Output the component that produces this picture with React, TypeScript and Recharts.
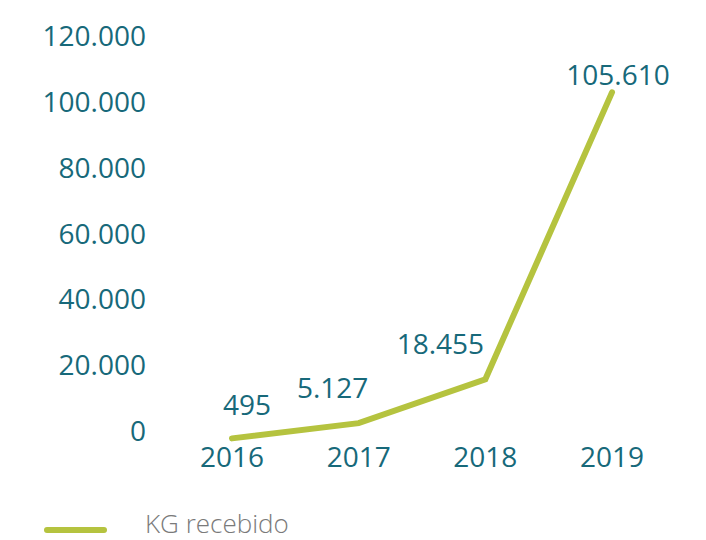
import React from "react";
import { LineChart, Line, XAxis, YAxis, Legend, LabelList } from "recharts";

const years = ["2016", "2017", "2018", "2019"];
const kgReceived = [495, 5127, 18455, 105610];
const valueLabels = ["495", "5.127", "18.455", "105.610"];
const yTicks = [0, 20000, 40000, 60000, 80000, 100000, 120000];
const seriesName = "KG recebido";

const data = years.map((y, i) => ({ year: y, kg: kgReceived[i], label: valueLabels[i] }));

const TEAL = "#17697a";
const LIME = "#b5c33f";
const FONT = "'Open Sans', 'Noto Sans', sans-serif";

const labelOffsets = [
  { dx: 15, dy: -33 },
  { dx: -26, dy: -35 },
  { dx: -45, dy: -35 },
  { dx: 6, dy: -17 },
];

const fmt = (v: number) => v.toLocaleString("de-DE");

const YTick = (props: any) => {
  const { y, payload } = props;
  return (
    <text x={146} y={y - 9} dy="0.36em" textAnchor="end" fill={TEAL} fontSize={28} fontFamily={FONT}>
      {fmt(payload.value)}
    </text>
  );
};

const XTick = (props: any) => {
  const { x, y, payload } = props;
  return (
    <text x={x} y={y + 19} textAnchor="middle" fill={TEAL} fontSize={28} fontFamily={FONT}>
      {payload.value}
    </text>
  );
};

const ValueLabel = (props: any) => {
  const { x, y, index, value } = props;
  const o = labelOffsets[index] || { dx: 0, dy: -20 };
  return (
    <text x={x + o.dx} y={y + o.dy} dy="0.36em" textAnchor="middle" fill={TEAL} fontSize={28} fontFamily={FONT}>
      {value}
    </text>
  );
};

const LegendContent = () => (
  <svg width={706} height={30} style={{ display: "block", overflow: "visible" }}>
    <line x1={47} y1={20} x2={104} y2={20} stroke={LIME} strokeWidth={6} strokeLinecap="round" />
    <text x={145} y={23} fill="#7a7a7a" fontSize={26} fontWeight={300} fontFamily={FONT}>
      {seriesName}
    </text>
  </svg>
);

export default function App() {
  return (
    <div style={{ position: "absolute", left: 0, top: 0, width: 706, height: 540, background: "#fff" }}>
      <LineChart width={706} height={540} data={data} margin={{ top: 45, right: 94, bottom: 30, left: 0 }}>
        <XAxis
          dataKey="year"
          axisLine={false}
          tickLine={false}
          tick={<XTick />}
          padding={{ left: 82, right: 0 }}
          height={40}
          interval={0}
        />
        <YAxis
          domain={[0, 120000]}
          ticks={yTicks}
          axisLine={false}
          tickLine={false}
          tick={<YTick />}
          width={150}
          interval={0}
        />
        <Legend
          verticalAlign="bottom"
          content={<LegendContent />}
          wrapperStyle={{ position: "absolute", left: 0, top: 510, width: 706, height: 30 }}
        />
        <Line
          type="linear"
          dataKey="kg"
          name={seriesName}
          stroke={LIME}
          strokeWidth={6}
          strokeLinecap="round"
          dot={false}
          activeDot={false}
          isAnimationActive={false}
        >
          <LabelList dataKey="label" content={<ValueLabel />} />
        </Line>
      </LineChart>
    </div>
  );
}
